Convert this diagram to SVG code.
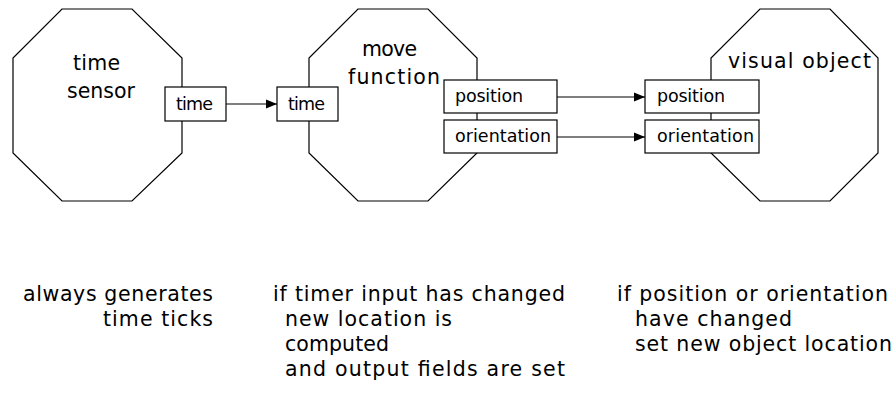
<svg xmlns="http://www.w3.org/2000/svg" width="896" height="394" viewBox="0 0 896 394">
<style>
.oct{fill:none;stroke:#000;stroke-width:1.2}
.port{fill:#fff;stroke:#000;stroke-width:1.2}
.t{font-family:"DejaVu Sans","Liberation Sans",sans-serif;font-size:20.5px;fill:#000}
.pt{font-family:"DejaVu Sans","Liberation Sans",sans-serif;font-size:17.5px;fill:#000}
.c{fill:none;stroke:#000;stroke-width:1.2}
</style>
<defs>
<marker id="ah" markerUnits="userSpaceOnUse" markerWidth="11" markerHeight="10" refX="11" refY="5" orient="auto">
<path d="M0,0.5 L11,5 L0,9.5 z" fill="#000"/>
</marker>
</defs>
<rect width="896" height="394" fill="#fff"/>
<g id="time_sensor">
<polygon class="oct" points="62,9 132,9 182,58 182,153 132,201 62,201 13,153 13,58"/>
<text class="t" x="73" y="70" textLength="47" lengthAdjust="spacing">time</text>
<text class="t" x="67" y="98" textLength="68" lengthAdjust="spacing">sensor</text>
<rect class="port" x="165" y="87" width="61" height="34"/>
<text class="pt" x="176" y="110" textLength="37" lengthAdjust="spacing">time</text>
</g>
<g id="move_function">
<polygon class="oct" points="358,9 428,9 477,58 477,153 428,201 358,201 309,153 309,58"/>
<text class="t" x="362" y="56" textLength="55" lengthAdjust="spacing">move</text>
<text class="t" x="348" y="84" textLength="92" lengthAdjust="spacing">function</text>
<rect class="port" x="277" y="87" width="61" height="34"/>
<text class="pt" x="288" y="110" textLength="37" lengthAdjust="spacing">time</text>
<rect class="port" x="444" y="80" width="113" height="33"/>
<text class="pt" x="455" y="102" textLength="68" lengthAdjust="spacing">position</text>
<rect class="port" x="444" y="120" width="113" height="33"/>
<text class="pt" x="455" y="142" textLength="96" lengthAdjust="spacing">orientation</text>
</g>
<g id="visual_object">
<polygon class="oct" points="760,9 830,9 878,58 878,153 830,201 760,201 711,153 711,58"/>
<text class="t" x="728" y="68" textLength="143" lengthAdjust="spacing">visual object</text>
<rect class="port" x="645" y="80" width="114" height="33"/>
<text class="pt" x="657" y="102" textLength="68" lengthAdjust="spacing">position</text>
<rect class="port" x="645" y="120" width="114" height="33"/>
<text class="pt" x="657" y="142" textLength="97" lengthAdjust="spacing">orientation</text>
</g>
<g id="connectors">
<line class="c" x1="226" y1="104" x2="277" y2="104" marker-end="url(#ah)"/>
<line class="c" x1="557" y1="97" x2="645" y2="97" marker-end="url(#ah)"/>
<line class="c" x1="557" y1="137" x2="645" y2="137" marker-end="url(#ah)"/>
</g>
<g id="notes">
<text class="t" x="23" y="301" textLength="190" lengthAdjust="spacing">always generates</text>
<text class="t" x="103" y="326" textLength="110" lengthAdjust="spacing">time ticks</text>
<text class="t" x="273" y="301" textLength="292" lengthAdjust="spacing">if timer input has changed</text>
<text class="t" x="285" y="326" textLength="167" lengthAdjust="spacing">new location is</text>
<text class="t" x="285" y="351" textLength="104" lengthAdjust="spacing">computed</text>
<text class="t" x="285" y="376" textLength="280" lengthAdjust="spacing">and output fields are set</text>
<text class="t" x="617" y="301" textLength="271" lengthAdjust="spacing">if position or orientation</text>
<text class="t" x="635" y="326" textLength="157" lengthAdjust="spacing">have changed</text>
<text class="t" x="635" y="351" textLength="257" lengthAdjust="spacing">set new object location</text>
</g>
</svg>
